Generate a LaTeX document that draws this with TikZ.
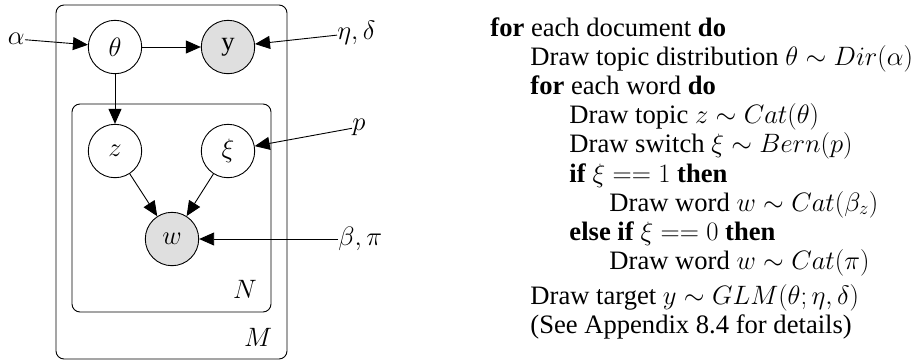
\RequirePackage{fix-cm}
\documentclass[tikz,border=0pt]{standalone}
\usepackage[no-math]{fontspec}
\setmainfont{Liberation Serif}
\usetikzlibrary{arrows.meta}
\begin{document}
\begin{tikzpicture}[x=1pt,y=-1pt,line width=0.9pt,
  every node/.style={font=\fontsize{26.6}{29}\selectfont},
  latent/.style={circle,draw,minimum size=53.4pt,inner sep=0pt,line width=0.9pt},
  obs/.style={latent,fill=gray!25},
  plate/.style={draw,rounded corners=8pt},
  param/.style={inner sep=0pt},
  edge/.style={-{Triangle[length=15pt,width=13pt]}},
  algline/.style={anchor=base west,inner sep=0pt}]
\useasboundingbox (0,0) rectangle (914,360);
% plates
\draw[plate] (56,5) rectangle (287,359);
\draw[plate] (72,104) rectangle (271,312);
\node (N) at (245,289) {$N$};
\node (M) at (258,337) {$M$};
% variables
\node[latent] (theta) at (115,47) {$\theta$};
\node[obs] (y) at (228,47) {y};
\node[latent] (z) at (115,151) {$z$};
\node[latent] (xi) at (228,151) {$\xi$};
\node[obs] (w) at (172,239) {$w$};
% parameters
\node[param,anchor=east] (alpha) at (25,39) {$\alpha$};
\node[param,anchor=west] (eta) at (337,33) {$\eta,\delta$};
\node[param,anchor=west] (p) at (352,127) {$p$};
\node[param,anchor=west] (beta) at (338,239) {$\beta,\pi$};
% edges
\draw[edge] (alpha) -- (theta);
\draw[edge] (theta) -- (y);
\draw[edge] (theta) -- (z);
\draw[edge] (z) -- (w);
\draw[edge] (xi) -- (w);
\draw[edge] (eta) -- (y);
\draw[edge] (p) -- (xi);
\draw[edge] (beta.west) -- (w.east);
% algorithm
\node[algline] (L1) at (490,36) {\textbf{for} each document \textbf{do}};
\node[algline] (L2) at (530,65) {Draw topic distribution $\theta\sim Dir(\alpha)$};
\node[algline] (L3) at (530,94) {\textbf{for} each word \textbf{do}};
\node[algline] (L4) at (569,123) {Draw topic $z\sim Cat(\theta)$};
\node[algline] (L5) at (569,152) {Draw switch $\xi\sim Bern(p)$};
\node[algline] (L6) at (569,182) {\textbf{if} $\xi == 1$ \textbf{then}};
\node[algline] (L7) at (609,211) {Draw word $w\sim Cat(\beta_z)$};
\node[algline] (L8) at (569,240) {\textbf{else if} $\xi == 0$ \textbf{then}};
\node[algline] (L9) at (609,269) {Draw word $w\sim Cat(\pi)$};
\node[algline] (L10) at (530,304) {Draw target $y\sim GLM(\theta;\eta,\delta)$};
\node[algline] (L11) at (530,333) {(See Appendix 8.4 for details)};
\end{tikzpicture}
\end{document}
